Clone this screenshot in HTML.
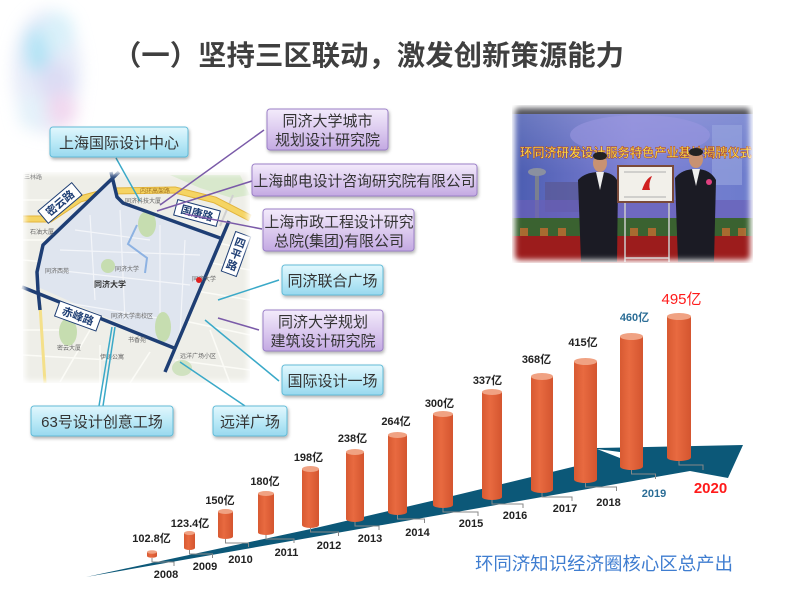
<!DOCTYPE html>
<html><head><meta charset="utf-8"><style>
html,body{margin:0;padding:0;background:#fff;}
svg{display:block;}
text{font-family:"Liberation Sans","Noto Sans CJK SC",sans-serif;}
</style></head><body>
<svg width="800" height="599" viewBox="0 0 800 599" xmlns="http://www.w3.org/2000/svg">
<defs>
<linearGradient id="cy" x1="0" y1="0" x2="0" y2="1"><stop offset="0" stop-color="#e2f7fd"/><stop offset="0.55" stop-color="#b9e8f6"/><stop offset="1" stop-color="#98d8ee"/></linearGradient>
<linearGradient id="pu" x1="0" y1="0" x2="0" y2="1"><stop offset="0" stop-color="#f3ebfb"/><stop offset="0.55" stop-color="#dac8ee"/><stop offset="1" stop-color="#c3a9e2"/></linearGradient>
<linearGradient id="bar" x1="0" y1="0" x2="1" y2="0"><stop offset="0" stop-color="#d85a32"/><stop offset="0.4" stop-color="#e86a40"/><stop offset="1" stop-color="#d4552f"/></linearGradient>
<linearGradient id="bd" x1="0" y1="0" x2="1" y2="0"><stop offset="0" stop-color="#4a5cb0"/><stop offset="0.5" stop-color="#7e80d4"/><stop offset="1" stop-color="#6c7ccc"/></linearGradient>
<linearGradient id="bdv" x1="0" y1="0" x2="0" y2="1"><stop offset="0" stop-color="#fff" stop-opacity="0.15"/><stop offset="1" stop-color="#fff" stop-opacity="0"/></linearGradient>
<filter id="sh" x="-10%" y="-20%" width="130%" height="160%"><feDropShadow dx="1" dy="2" stdDeviation="1.5" flood-color="#000" flood-opacity="0.3"/></filter>
<filter id="bl8" x="-50%" y="-50%" width="200%" height="200%"><feGaussianBlur stdDeviation="8"/></filter>
<filter id="bl3" x="-20%" y="-20%" width="140%" height="140%"><feGaussianBlur stdDeviation="3"/></filter>
<mask id="pm"><rect x="515" y="108" width="235" height="152" rx="4" fill="#fff" filter="url(#bl3)"/></mask>
<mask id="mm"><rect x="25" y="174" width="223" height="207" rx="4" fill="#fff" filter="url(#bl3)"/></mask>
</defs>

<!-- watercolor splash -->
<g filter="url(#bl8)" opacity="0.6">
<ellipse cx="47" cy="72" rx="34" ry="62" fill="#d6def4"/>
<ellipse cx="38" cy="50" rx="14" ry="24" fill="#7fd2f0"/>
<ellipse cx="58" cy="32" rx="16" ry="20" fill="#bfe6f6"/>
<ellipse cx="56" cy="82" rx="18" ry="20" fill="#c6c6ee"/>
<ellipse cx="62" cy="110" rx="15" ry="18" fill="#e8bde4"/>
<ellipse cx="32" cy="112" rx="14" ry="18" fill="#d2e8f6"/>
</g>

<!-- title -->
<text x="113" y="65" font-size="28" font-weight="bold" fill="#3f3f3f" textLength="511" lengthAdjust="spacingAndGlyphs">（一）坚持三区联动，激发创新策源能力</text>

<!-- map -->
<g mask="url(#mm)">
<rect x="23" y="172" width="227" height="211" fill="#eeeee8"/>
<g stroke="#fbfbf6" stroke-width="1.6" fill="none">
<path d="M23,200 L110,200 M23,240 L60,240 M23,260 L45,262 M23,330 L60,330 M23,355 L110,360 M60,382 L90,330 M195,260 L250,270 M190,290 L250,300 M180,320 L250,335 M175,360 L250,370 M205,240 L250,250 M210,330 L230,383 M130,383 L150,352 M100,383 L100,345"/>
</g>
<path d="M170,175 L240,175 L250,195 L232,198 L200,188 Z" fill="#d8e8cc"/>
<path d="M40,305 L45,383" stroke="#f4e08a" stroke-width="3"/>
<path d="M233,195 L220,226" stroke="#d0d0d0" stroke-width="2"/>
<polyline points="23,219 50,219 80,199 110,191 175,190 215,200 250,218" fill="none" stroke="#e2b43c" stroke-width="7"/>
<polyline points="23,219 50,219 80,199 110,191 175,190 215,200 250,218" fill="none" stroke="#f5d463" stroke-width="5"/>
<polygon points="112,178 117,197 123,203 220,238 173,347 40,288 37,272 43,245 57,228" fill="#dfe5ef"/>
<g stroke="#f3f5f9" stroke-width="1.2" fill="none">
<path d="M60,250 L200,255 M55,270 L190,285 M75,230 L150,240 M90,215 L95,300 M120,210 L125,320 M160,225 L160,330 M185,240 L180,335 M50,300 L170,320"/>
</g>
<ellipse cx="147" cy="224" rx="9" ry="13" fill="#c6ddb0"/>
<ellipse cx="108" cy="266" rx="7" ry="7" fill="#c6ddb0"/>
<ellipse cx="163" cy="327" rx="8" ry="15" fill="#c6ddb0"/>
<ellipse cx="68" cy="332" rx="9" ry="14" fill="#c6ddb0"/>
<ellipse cx="182" cy="368" rx="10" ry="8" fill="#d0e2c0"/>
<polyline points="137,225 128,244 147,258 145,273" fill="none" stroke="#8db2e2" stroke-width="2"/>
<g stroke="#1e3e74" stroke-width="3.5" fill="none" stroke-linejoin="round">
<polyline points="119,172 43,245 37,272 38,290 40,310"/>
<polyline points="111,172 117,197 123,203 220,238"/>
<polyline points="229,221 165,372"/>
<polyline points="22,287 174,348"/>
</g>
<g font-size="6" fill="#666">
<text x="24" y="179">三林路</text>
<text x="30" y="234">石油大厦</text>
<text x="45" y="273">同济西苑</text>
<text x="115" y="271">同济大学</text>
<text x="192" y="281">同济大学</text>
<text x="111" y="318">同济大学南校区</text>
<text x="57" y="350">密云大厦</text>
<text x="128" y="342">书香苑</text>
<text x="100" y="359">伊顿公寓</text>
<text x="180" y="358">远洋广场小区</text>
<text x="125" y="203">同济科技大厦</text>
<text x="140" y="193" fill="#a07020">内环高架路</text>
</g>
<circle cx="199" cy="280" r="3" fill="#e02020"/>
<text x="110" y="287" font-size="8" font-weight="bold" fill="#333" text-anchor="middle">同济大学</text>
<g font-weight="bold" font-size="11" fill="#1e3e74">
<g transform="translate(60,203) rotate(-40)"><rect x="-22" y="-8" width="44" height="16" fill="#fff" stroke="#1e3e74" stroke-width="1"/><text x="0" y="4" text-anchor="middle" font-family="Noto Serif CJK SC,serif">密云路</text></g>
<g transform="translate(197,213) rotate(15)"><rect x="-22" y="-8" width="44" height="16" fill="#fff" stroke="#1e3e74" stroke-width="1"/><text x="0" y="4" text-anchor="middle" font-family="Noto Serif CJK SC,serif">国康路</text></g>
<g transform="translate(236,254) rotate(20)"><rect x="-8" y="-21" width="16" height="42" fill="#fff" stroke="#1e3e74" stroke-width="1"/><text x="0" y="-8" text-anchor="middle" font-family="Noto Serif CJK SC,serif">四</text><text x="0" y="4" text-anchor="middle" font-family="Noto Serif CJK SC,serif">平</text><text x="0" y="16" text-anchor="middle" font-family="Noto Serif CJK SC,serif">路</text></g>
<g transform="translate(78,316) rotate(20)"><rect x="-22" y="-8" width="44" height="16" fill="#fff" stroke="#1e3e74" stroke-width="1"/><text x="0" y="4" text-anchor="middle" font-family="Noto Serif CJK SC,serif">赤峰路</text></g>
</g>
</g>

<!-- leader lines -->
<g stroke-width="1.5" fill="none">
<line x1="116" y1="158" x2="140" y2="201" stroke="#3aa9c8"/>
<line x1="264" y1="130" x2="160" y2="205" stroke="#7a5aa8"/>
<line x1="252" y1="181" x2="157" y2="211" stroke="#7a5aa8"/>
<line x1="262" y1="229" x2="185" y2="214" stroke="#7a5aa8"/>
<line x1="279" y1="280" x2="218" y2="300" stroke="#3aa9c8"/>
<line x1="259" y1="330" x2="218" y2="318" stroke="#7a5aa8"/>
<line x1="279" y1="381" x2="205" y2="320" stroke="#3aa9c8"/>
<line x1="99" y1="406" x2="112" y2="327" stroke="#3aa9c8"/>
<line x1="103" y1="406" x2="115" y2="327" stroke="#3aa9c8"/>
<line x1="245" y1="406" x2="180" y2="362" stroke="#3aa9c8"/>
</g>

<!-- callout boxes -->
<g font-size="15" fill="#333" text-anchor="middle">
<rect x="50" y="127" width="138" height="30" rx="3" fill="url(#cy)" stroke="#62bcd8" filter="url(#sh)"/>
<text x="119" y="148">上海国际设计中心</text>
<rect x="267" y="109" width="121" height="41" rx="3" fill="url(#pu)" stroke="#9c80c8" filter="url(#sh)"/>
<text x="327.5" y="126">同济大学城市</text>
<text x="327.5" y="145">规划设计研究院</text>
<rect x="252" y="164" width="225" height="32" rx="3" fill="url(#pu)" stroke="#9c80c8" filter="url(#sh)"/>
<text x="364.5" y="186" textLength="222" lengthAdjust="spacingAndGlyphs">上海邮电设计咨询研究院有限公司</text>
<rect x="263" y="209" width="151" height="42" rx="3" fill="url(#pu)" stroke="#9c80c8" filter="url(#sh)"/>
<text x="339" y="227" textLength="149" lengthAdjust="spacingAndGlyphs">上海市政工程设计研究</text>
<text x="339" y="246">总院(集团)有限公司</text>
<rect x="282" y="265" width="101" height="30" rx="3" fill="url(#cy)" stroke="#62bcd8" filter="url(#sh)"/>
<text x="332.5" y="286">同济联合广场</text>
<rect x="263" y="310" width="120" height="41" rx="3" fill="url(#pu)" stroke="#9c80c8" filter="url(#sh)"/>
<text x="323" y="327">同济大学规划</text>
<text x="323" y="346">建筑设计研究院</text>
<rect x="282" y="365" width="101" height="30" rx="3" fill="url(#cy)" stroke="#62bcd8" filter="url(#sh)"/>
<text x="332.5" y="386">国际设计一场</text>
<rect x="31" y="406" width="142" height="30" rx="3" fill="url(#cy)" stroke="#62bcd8" filter="url(#sh)"/>
<text x="102" y="427">63号设计创意工场</text>
<rect x="213" y="406" width="74" height="30" rx="3" fill="url(#cy)" stroke="#62bcd8" filter="url(#sh)"/>
<text x="250" y="427">远洋广场</text>
</g>

<!-- photo -->
<g mask="url(#pm)">
<rect x="512" y="105" width="241" height="158" fill="#6a72c0"/>
<rect x="512" y="105" width="241" height="9" fill="#55555c"/>
<rect x="512" y="114" width="241" height="110" fill="url(#bd)"/>
<rect x="512" y="114" width="241" height="60" fill="url(#bdv)"/>
<ellipse cx="640" cy="135" rx="70" ry="20" fill="#9a96e0" opacity="0.6"/>
<rect x="712" y="125" width="30" height="60" fill="#9aa6e0" opacity="0.6"/>
<rect x="535" y="170" width="4" height="55" fill="#7a8090"/>
<ellipse cx="537" cy="172" rx="9" ry="4" fill="#8a90a0"/>
<rect x="545" y="182" width="40" height="30" fill="#5a5a98" opacity="0.8"/>
<rect x="512" y="200" width="241" height="22" fill="#6a60b8" opacity="0.7"/>
<text x="520" y="157" font-family="Noto Serif CJK SC,serif" font-size="12.5" font-weight="bold" fill="#f6d84a" stroke="#a02a20" stroke-width="0.4" textLength="232" lengthAdjust="spacingAndGlyphs">环同济研发设计服务特色产业基地揭牌仪式</text>
<rect x="512" y="218" width="241" height="18" fill="#3a6230"/>
<g fill="#a86a30"><rect x="520" y="228" width="8" height="8"/><rect x="540" y="228" width="8" height="8"/><rect x="558" y="228" width="8" height="8"/><rect x="630" y="228" width="8" height="8"/><rect x="648" y="228" width="8" height="8"/><rect x="722" y="228" width="8" height="8"/><rect x="738" y="228" width="8" height="8"/></g>
<rect x="512" y="236" width="241" height="27" fill="#9c1c1c"/>
<path d="M578,180 Q585,172 600,172 Q614,172 618,182 L617,262 L581,262 Z" fill="#1b1b24"/>
<path d="M596,172 L600,190 L604,172 Z" fill="#eeeeee"/>
<ellipse cx="600" cy="163" rx="7" ry="9" fill="#c89272"/>
<ellipse cx="600" cy="156" rx="7" ry="4" fill="#222"/>
<path d="M675,178 Q682,169 696,169 Q710,169 716,180 L714,262 L678,262 Z" fill="#1b1b24"/>
<path d="M692,169 L696,186 L700,169 Z" fill="#eeeeee"/>
<ellipse cx="696" cy="159" rx="7" ry="9" fill="#c89272"/>
<ellipse cx="696" cy="152" rx="7" ry="4" fill="#222"/>
<ellipse cx="709" cy="182" rx="3" ry="3" fill="#e04080"/>
<line x1="625" y1="202" x2="625" y2="262" stroke="#ccc" stroke-width="1.5"/>
<line x1="669" y1="202" x2="669" y2="262" stroke="#ccc" stroke-width="1.5"/>
<line x1="625" y1="258" x2="669" y2="258" stroke="#ccc" stroke-width="1.5"/>
<rect x="618" y="166" width="55" height="36" fill="#f2f0ea" stroke="#7a4a3a" stroke-width="2"/>
<path d="M642,190 Q646,178 652,176 Q648,184 650,190 Z" fill="#d02020"/>
<line x1="624" y1="172" x2="666" y2="172" stroke="#999" stroke-width="0.8"/>
<line x1="624" y1="197" x2="666" y2="197" stroke="#999" stroke-width="0.8"/>
</g>

<!-- chart band -->
<polygon points="86,577 320,527 440,499 560,470 597,461 597,448 743,445 728,478 690,471" fill="#0c5878"/>
<polygon points="597,449 620,452 620,458" fill="#fff"/>

<!-- brackets -->
<g stroke="#888" stroke-width="1" fill="none">
<path d="M152,558 v4 h22 v4"/>
<path d="M189.5,550 v4 h23 v4"/>
<path d="M225.5,539 v4 h23 v4"/>
<path d="M266,535 v4 h28 v4"/>
<path d="M310.5,528 v4 h28 v4"/>
<path d="M355,522 v4 h24 v4"/>
<path d="M397.5,515 v4 h27 v4"/>
<path d="M443,508 v4 h35 v4"/>
<path d="M492,500 v4 h31 v4"/>
<path d="M542,493 v4 h30 v4"/>
<path d="M585.5,483 v4 h31 v4"/>
<path d="M631.5,470 v4 h24 v5"/>
<path d="M679,461 v4 h24 v5"/>
</g>

<!-- bars -->
<g>
<path d="M147,552 v4 a5,1.8 0 0 0 10,0 v-4 z" fill="url(#bar)"/><ellipse cx="152" cy="552" rx="5" ry="1.8" fill="#f0a283"/>
<path d="M184,533 v15 a5.5,2 0 0 0 11,0 v-15 z" fill="url(#bar)"/><ellipse cx="189.5" cy="533" rx="5.5" ry="2" fill="#f0a283"/>
<path d="M218,511.5 v25 a7.5,2.5 0 0 0 15,0 v-25 z" fill="url(#bar)"/><ellipse cx="225.5" cy="511.5" rx="7.5" ry="2.5" fill="#f0a283"/>
<path d="M258,493.5 v39 a8,2.5 0 0 0 16,0 v-39 z" fill="url(#bar)"/><ellipse cx="266" cy="493.5" rx="8" ry="2.5" fill="#f0a283"/>
<path d="M302,469 v56 a8.5,3 0 0 0 17,0 v-56 z" fill="url(#bar)"/><ellipse cx="310.5" cy="469" rx="8.5" ry="3" fill="#f0a283"/>
<path d="M346,452 v67 a9,3 0 0 0 18,0 v-67 z" fill="url(#bar)"/><ellipse cx="355" cy="452" rx="9" ry="3" fill="#f0a283"/>
<path d="M388,435 v77 a9.5,3 0 0 0 19,0 v-77 z" fill="url(#bar)"/><ellipse cx="397.5" cy="435" rx="9.5" ry="3" fill="#f0a283"/>
<path d="M433,414 v91 a10,3 0 0 0 20,0 v-91 z" fill="url(#bar)"/><ellipse cx="443" cy="414" rx="10" ry="3" fill="#f0a283"/>
<path d="M482,392 v105 a10,3 0 0 0 20,0 v-105 z" fill="url(#bar)"/><ellipse cx="492" cy="392" rx="10" ry="3" fill="#f0a283"/>
<path d="M531,376.5 v113 a11,3.5 0 0 0 22,0 v-113 z" fill="url(#bar)"/><ellipse cx="542" cy="376.5" rx="11" ry="3.5" fill="#f0a283"/>
<path d="M574,361.5 v118 a11.5,3.5 0 0 0 23,0 v-118 z" fill="url(#bar)"/><ellipse cx="585.5" cy="361.5" rx="11.5" ry="3.5" fill="#f0a283"/>
<path d="M620,336.5 v130 a11.5,3.5 0 0 0 23,0 v-130 z" fill="url(#bar)"/><ellipse cx="631.5" cy="336.5" rx="11.5" ry="3.5" fill="#f0a283"/>
<path d="M667,316.5 v141 a12,3.5 0 0 0 24,0 v-141 z" fill="url(#bar)"/><ellipse cx="679" cy="316.5" rx="12" ry="3.5" fill="#f0a283"/>
</g>

<!-- value labels -->
<g font-size="11" font-weight="bold" fill="#222" text-anchor="middle">
<text x="151.5" y="542">102.8亿</text>
<text x="190" y="527">123.4亿</text>
<text x="220" y="504">150亿</text>
<text x="265" y="485">180亿</text>
<text x="308.5" y="461">198亿</text>
<text x="352.5" y="442">238亿</text>
<text x="396" y="425">264亿</text>
<text x="439.5" y="407">300亿</text>
<text x="487.5" y="384">337亿</text>
<text x="536.5" y="363">368亿</text>
<text x="583" y="346">415亿</text>
<text x="634.5" y="321" fill="#2b6d96">460亿</text>
<text x="681.5" y="304" font-size="15" font-weight="normal" fill="#ff1a1a">495亿</text>
</g>
<!-- year labels -->
<g font-size="11" font-weight="bold" fill="#222" text-anchor="middle">
<text x="166" y="578">2008</text>
<text x="205" y="570">2009</text>
<text x="240.5" y="563">2010</text>
<text x="286.5" y="556">2011</text>
<text x="329" y="549">2012</text>
<text x="370" y="542">2013</text>
<text x="417.5" y="536">2014</text>
<text x="471" y="527">2015</text>
<text x="515" y="519">2016</text>
<text x="565" y="512">2017</text>
<text x="608.5" y="506">2018</text>
<text x="654" y="497" fill="#2b6d96">2019</text>
<text x="710.5" y="493" font-size="15" fill="#ff1a1a">2020</text>
</g>

<text x="475" y="570" font-size="18" fill="#3f7dd0" textLength="258" lengthAdjust="spacingAndGlyphs">环同济知识经济圈核心区总产出</text>
</svg>
</body></html>
